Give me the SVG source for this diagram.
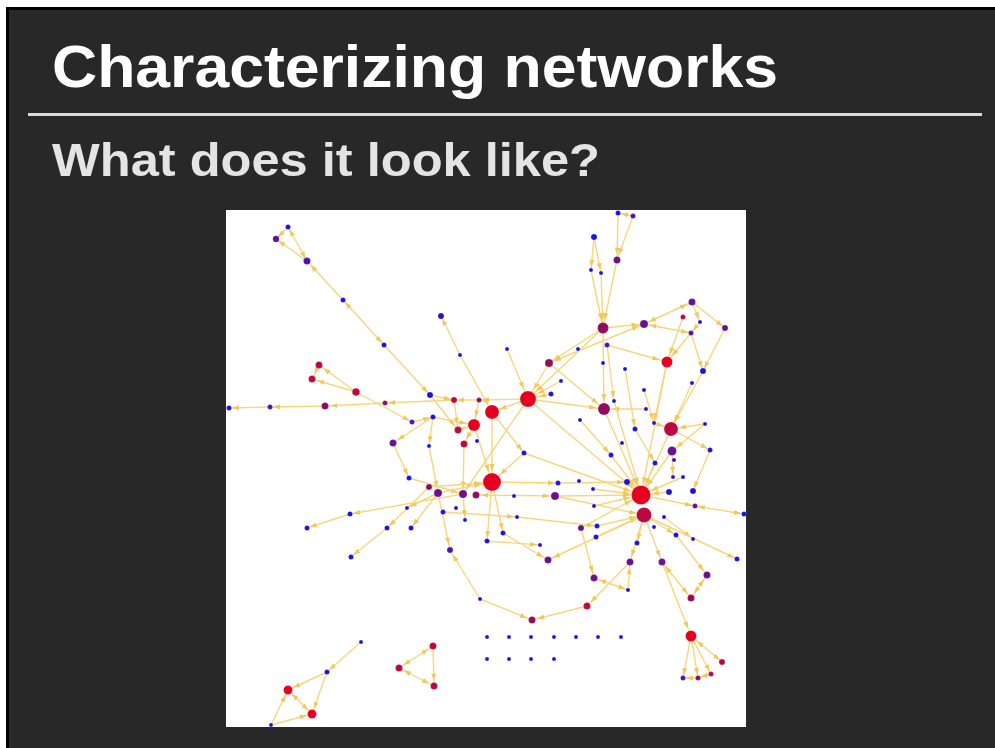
<svg xmlns="http://www.w3.org/2000/svg" width="995" height="748" viewBox="0 0 995 748">
<defs>
<style>
.e{stroke:#f7d67c;stroke-width:1.4;fill:none}
.a{marker-end:url(#ma)} .m{marker-end:url(#mm)} .b{marker-end:url(#mb)} .B{marker-end:url(#mB)}
.sa{marker-start:url(#ma)} .sm{marker-start:url(#mm)} .sb{marker-start:url(#mb)}
.c1{fill:#1d10e2} .c2{fill:#4c12b6} .c3{fill:#6b0f8e} .c4{fill:#900c62} .c5{fill:#bb0840} .c6{fill:#e60020}
.nodes circle{stroke:#ffffff;stroke-opacity:0.25;stroke-width:0.6}
.title{font-family:"Liberation Sans","DejaVu Sans",sans-serif;font-weight:bold}
</style>
<marker id="ma" viewBox="0 0 8 6" markerWidth="8" markerHeight="6" refX="10" refY="3" orient="auto-start-reverse" markerUnits="userSpaceOnUse"><path d="M0,0.5 L7,3 L0,5.5 z" fill="#f2c75e"/></marker>
<marker id="mm" viewBox="0 0 8 6" markerWidth="8" markerHeight="6" refX="12.5" refY="3" orient="auto-start-reverse" markerUnits="userSpaceOnUse"><path d="M0,0.5 L7,3 L0,5.5 z" fill="#f2c75e"/></marker>
<marker id="mb" viewBox="0 0 8 6" markerWidth="8" markerHeight="6" refX="15" refY="3" orient="auto-start-reverse" markerUnits="userSpaceOnUse"><path d="M0,0.5 L7,3 L0,5.5 z" fill="#f2c75e"/></marker>
<marker id="mB" viewBox="0 0 8 6" markerWidth="8" markerHeight="6" refX="18" refY="3" orient="auto-start-reverse" markerUnits="userSpaceOnUse"><path d="M0,0.5 L7,3 L0,5.5 z" fill="#f2c75e"/></marker>
</defs>
<rect x="0" y="0" width="995" height="748" fill="#ffffff"/>
<rect x="6" y="7" width="989" height="741" fill="#000000"/>
<rect x="9" y="10" width="986" height="738" fill="#282828"/>
<text class="title" x="52" y="87" font-size="60" fill="#ffffff" textLength="726" lengthAdjust="spacingAndGlyphs">Characterizing networks</text>
<rect x="28" y="113" width="954" height="3" fill="#d9d9d9"/>
<text class="title" x="52" y="176" font-size="47" fill="#e4e4e4" textLength="548" lengthAdjust="spacingAndGlyphs">What does it look like?</text>
<rect x="226" y="210" width="520" height="517" fill="#ffffff"/>
<g id="connectors">
<line class="e a sa" x1="307" y1="261" x2="288" y2="227"/>
<line class="e a" x1="288" y1="227" x2="276" y2="239"/>
<line class="e a" x1="307" y1="261" x2="276" y2="239"/>
<line class="e m" x1="343" y1="300" x2="307" y2="261"/>
<line class="e a sa" x1="343" y1="300" x2="384" y2="345"/>
<line class="e a" x1="384" y1="345" x2="430" y2="395"/>
<line class="e m" x1="319" y1="365" x2="312" y2="379"/>
<line class="e m" x1="356" y1="392" x2="319" y2="365"/>
<line class="e m" x1="356" y1="392" x2="312" y2="379"/>
<line class="e a" x1="356" y1="392" x2="412" y2="422"/>
<line class="e a" x1="270" y1="407" x2="229" y2="408"/>
<line class="e a" x1="325" y1="406" x2="270" y2="407"/>
<line class="e m" x1="385" y1="403" x2="325" y2="406"/>
<line class="e a" x1="454" y1="400" x2="385" y2="403"/>
<line class="e a" x1="479" y1="400" x2="454" y2="400"/>
<line class="e a" x1="528" y1="399" x2="479" y2="400"/>
<line class="e m" x1="433" y1="417" x2="393" y2="443"/>
<line class="e a" x1="393" y1="443" x2="409" y2="478"/>
<line class="e a" x1="460" y1="355" x2="441" y2="316"/>
<line class="e b" x1="460" y1="355" x2="492" y2="412"/>
<line class="e B" x1="507" y1="349" x2="528" y2="399"/>
<line class="e m" x1="603" y1="328" x2="549" y2="363"/>
<line class="e m sm" x1="644" y1="324" x2="549" y2="363"/>
<line class="e B" x1="561" y1="381" x2="528" y2="399"/>
<line class="e B" x1="549" y1="363" x2="528" y2="399"/>
<line class="e a" x1="633" y1="216" x2="618" y2="213"/>
<line class="e m" x1="618" y1="213" x2="617" y2="260"/>
<line class="e m" x1="633" y1="216" x2="617" y2="260"/>
<line class="e a" x1="594" y1="237" x2="591" y2="270"/>
<line class="e a" x1="594" y1="237" x2="601" y2="273"/>
<line class="e b" x1="591" y1="270" x2="603" y2="328"/>
<line class="e b" x1="601" y1="273" x2="603" y2="328"/>
<line class="e b" x1="617" y1="260" x2="603" y2="328"/>
<line class="e B" x1="603" y1="328" x2="528" y2="399"/>
<line class="e m" x1="603" y1="328" x2="644" y2="324"/>
<line class="e m sm" x1="692" y1="302" x2="644" y2="324"/>
<line class="e m sa" x1="691" y1="333" x2="644" y2="324"/>
<line class="e a" x1="692" y1="302" x2="725" y2="328"/>
<line class="e a" x1="692" y1="302" x2="700" y2="322"/>
<line class="e a" x1="700" y1="322" x2="691" y2="333"/>
<line class="e a" x1="725" y1="328" x2="703" y2="371"/>
<line class="e a" x1="691" y1="333" x2="703" y2="371"/>
<line class="e b" x1="691" y1="333" x2="667" y2="362"/>
<line class="e b" x1="683" y1="317" x2="667" y2="362"/>
<line class="e b" x1="607" y1="345" x2="667" y2="362"/>
<line class="e b" x1="603" y1="328" x2="604" y2="409"/>
<line class="e a" x1="607" y1="345" x2="614" y2="401"/>
<line class="e a" x1="625" y1="369" x2="635" y2="429"/>
<line class="e a" x1="667" y1="362" x2="654" y2="423"/>
<line class="e b" x1="703" y1="371" x2="671" y2="429"/>
<line class="e b" x1="692" y1="383" x2="671" y2="429"/>
<line class="e b" x1="549" y1="363" x2="604" y2="409"/>
<line class="e b" x1="528" y1="399" x2="604" y2="409"/>
<line class="e B" x1="551" y1="394" x2="528" y2="399"/>
<line class="e B" x1="667" y1="362" x2="641" y2="495"/>
<line class="e b" x1="646" y1="409" x2="604" y2="409"/>
<line class="e a" x1="644" y1="390" x2="654" y2="423"/>
<line class="e b" x1="654" y1="423" x2="671" y2="429"/>
<line class="e b" x1="705" y1="424" x2="671" y2="429"/>
<line class="e m" x1="705" y1="424" x2="672" y2="451"/>
<line class="e a" x1="671" y1="429" x2="710" y2="450"/>
<line class="e a" x1="710" y1="450" x2="693" y2="491"/>
<line class="e a" x1="672" y1="451" x2="673" y2="477"/>
<line class="e B" x1="671" y1="429" x2="641" y2="495"/>
<line class="e B" x1="672" y1="451" x2="641" y2="495"/>
<line class="e B" x1="655" y1="463" x2="641" y2="495"/>
<line class="e a" x1="635" y1="429" x2="655" y2="463"/>
<line class="e B" x1="604" y1="409" x2="641" y2="495"/>
<line class="e B" x1="614" y1="401" x2="641" y2="495"/>
<line class="e a" x1="580" y1="420" x2="611" y2="455"/>
<line class="e B" x1="611" y1="455" x2="641" y2="495"/>
<line class="e B" x1="683" y1="477" x2="641" y2="495"/>
<line class="e a" x1="492" y1="482" x2="558" y2="483"/>
<line class="e a" x1="558" y1="483" x2="627" y2="482"/>
<line class="e B" x1="627" y1="482" x2="641" y2="495"/>
<line class="e m sm" x1="476" y1="495" x2="555" y2="496"/>
<line class="e B" x1="555" y1="496" x2="641" y2="495"/>
<line class="e b" x1="555" y1="496" x2="644" y2="515"/>
<line class="e B" x1="593" y1="489" x2="641" y2="495"/>
<line class="e B" x1="594" y1="506" x2="641" y2="495"/>
<line class="e B" x1="581" y1="528" x2="641" y2="495"/>
<line class="e b" x1="597" y1="526" x2="644" y2="515"/>
<line class="e b" x1="596" y1="537" x2="644" y2="515"/>
<line class="e B" x1="669" y1="492" x2="641" y2="495"/>
<line class="e a" x1="641" y1="495" x2="695" y2="506"/>
<line class="e a sa" x1="744" y1="514" x2="695" y2="506"/>
<line class="e a" x1="664" y1="517" x2="693" y2="539"/>
<line class="e a" x1="644" y1="515" x2="676" y2="535"/>
<line class="e a" x1="644" y1="515" x2="637" y2="543"/>
<line class="e B" x1="524" y1="453" x2="641" y2="495"/>
<line class="e a" x1="492" y1="412" x2="524" y2="453"/>
<line class="e B" x1="524" y1="453" x2="492" y2="482"/>
<line class="e B" x1="528" y1="399" x2="641" y2="495"/>
<line class="e a" x1="443" y1="512" x2="517" y2="517"/>
<line class="e a" x1="517" y1="517" x2="597" y2="526"/>
<line class="e b" x1="528" y1="399" x2="492" y2="412"/>
<line class="e m" x1="528" y1="399" x2="463" y2="494"/>
<line class="e a" x1="430" y1="395" x2="454" y2="400"/>
<line class="e m" x1="430" y1="395" x2="458" y2="430"/>
<line class="e m" x1="454" y1="400" x2="458" y2="430"/>
<line class="e b" x1="433" y1="417" x2="474" y2="425"/>
<line class="e a" x1="412" y1="422" x2="433" y2="417"/>
<line class="e b" x1="458" y1="430" x2="474" y2="425"/>
<line class="e b" x1="479" y1="400" x2="474" y2="425"/>
<line class="e m" x1="474" y1="425" x2="464" y2="444"/>
<line class="e B" x1="474" y1="425" x2="492" y2="482"/>
<line class="e m" x1="464" y1="444" x2="463" y2="494"/>
<line class="e B" x1="492" y1="412" x2="492" y2="482"/>
<line class="e a" x1="433" y1="417" x2="429" y2="446"/>
<line class="e m" x1="429" y1="446" x2="438" y2="493"/>
<line class="e m" x1="409" y1="478" x2="463" y2="494"/>
<line class="e B" x1="429" y1="487" x2="492" y2="482"/>
<line class="e B" x1="438" y1="493" x2="492" y2="482"/>
<line class="e a" x1="438" y1="493" x2="411" y2="528"/>
<line class="e a" x1="438" y1="493" x2="407" y2="508"/>
<line class="e a" x1="429" y1="487" x2="387" y2="528"/>
<line class="e a" x1="387" y1="528" x2="351" y2="557"/>
<line class="e a" x1="463" y1="494" x2="350" y2="514"/>
<line class="e a" x1="350" y1="514" x2="307" y2="528"/>
<line class="e a" x1="463" y1="494" x2="465" y2="520"/>
<line class="e a" x1="492" y1="482" x2="503" y2="533"/>
<line class="e a" x1="492" y1="482" x2="487" y2="541"/>
<line class="e m" x1="503" y1="533" x2="548" y2="560"/>
<line class="e a" x1="487" y1="541" x2="540" y2="545"/>
<line class="e m" x1="480" y1="599" x2="450" y2="550"/>
<line class="e m" x1="438" y1="493" x2="450" y2="550"/>
<line class="e m" x1="480" y1="599" x2="532" y2="620"/>
<line class="e m" x1="587" y1="606" x2="532" y2="620"/>
<line class="e m" x1="630" y1="562" x2="587" y2="606"/>
<line class="e m" x1="628" y1="590" x2="630" y2="562"/>
<line class="e a sm" x1="594" y1="578" x2="628" y2="590"/>
<line class="e m" x1="581" y1="528" x2="594" y2="578"/>
<line class="e m" x1="644" y1="515" x2="630" y2="562"/>
<line class="e m" x1="644" y1="515" x2="662" y2="562"/>
<line class="e m" x1="644" y1="515" x2="548" y2="560"/>
<line class="e a" x1="644" y1="515" x2="737" y2="559"/>
<line class="e m" x1="676" y1="535" x2="707" y2="575"/>
<line class="e m sm" x1="691" y1="598" x2="707" y2="575"/>
<line class="e m sm" x1="662" y1="562" x2="691" y2="598"/>
<line class="e b" x1="662" y1="562" x2="691" y2="636"/>
<line class="e a sb" x1="691" y1="636" x2="722" y2="662"/>
<line class="e a" x1="691" y1="636" x2="711" y2="674"/>
<line class="e a" x1="691" y1="636" x2="698" y2="678"/>
<line class="e a" x1="691" y1="636" x2="683" y2="678"/>
<line class="e a" x1="711" y1="674" x2="698" y2="678"/>
<line class="e a" x1="698" y1="678" x2="683" y2="678"/>
<line class="e m sm" x1="433" y1="646" x2="399" y2="668"/>
<line class="e m" x1="433" y1="646" x2="434" y2="686"/>
<line class="e m sm" x1="434" y1="686" x2="399" y2="668"/>
<line class="e a" x1="361" y1="642" x2="327" y2="672"/>
<line class="e m" x1="327" y1="672" x2="288" y2="690"/>
<line class="e m" x1="327" y1="672" x2="312" y2="714"/>
<line class="e m sm" x1="288" y1="690" x2="312" y2="714"/>
<line class="e m" x1="271" y1="725" x2="288" y2="690"/>
<line class="e m" x1="271" y1="725" x2="312" y2="714"/>
</g>
<g class="nodes">
<g id="A1"><circle class="c1" cx="288" cy="227" r="2.5"/></g>
<g id="A2"><circle class="c3" cx="276" cy="239" r="3.2"/></g>
<g id="A3"><circle class="c2" cx="307" cy="261" r="3.5"/></g>
<g id="A4"><circle class="c1" cx="343" cy="300" r="2.5"/></g>
<g id="A5"><circle class="c1" cx="384" cy="345" r="2.5"/></g>
<g id="B1"><circle class="c5" cx="319" cy="365" r="3.5"/></g>
<g id="B2"><circle class="c5" cx="312" cy="379" r="3.5"/></g>
<g id="B3"><circle class="c5" cx="356" cy="392" r="3.8"/></g>
<g id="B4"><circle class="c1" cx="229" cy="408" r="2.5"/></g>
<g id="B5"><circle class="c2" cx="270" cy="407" r="2.5"/></g>
<g id="B6"><circle class="c4" cx="325" cy="406" r="3.5"/></g>
<g id="B7"><circle class="c4" cx="385" cy="403" r="2.5"/></g>
<g id="B8"><circle class="c3" cx="393" cy="443" r="3.5"/></g>
<g id="C1"><circle class="c1" cx="441" cy="316" r="3"/></g>
<g id="C2"><circle class="c1" cx="460" cy="355" r="2"/></g>
<g id="C3"><circle class="c1" cx="507" cy="349" r="2"/></g>
<g id="C4"><circle class="c4" cx="549" cy="363" r="4"/></g>
<g id="C5"><circle class="c1" cx="561" cy="381" r="2"/></g>
<g id="D1"><circle class="c1" cx="618" cy="213" r="2.5"/></g>
<g id="D2"><circle class="c2" cx="633" cy="216" r="2.5"/></g>
<g id="D3"><circle class="c1" cx="594" cy="237" r="3"/></g>
<g id="D4"><circle class="c3" cx="617" cy="260" r="3.5"/></g>
<g id="D5"><circle class="c1" cx="591" cy="270" r="2"/></g>
<g id="D6"><circle class="c1" cx="601" cy="273" r="2"/></g>
<g id="D7"><circle class="c4" cx="603" cy="328" r="5.5"/></g>
<g id="D8"><circle class="c3" cx="644" cy="324" r="4"/></g>
<g id="D9"><circle class="c3" cx="692" cy="302" r="3.5"/></g>
<g id="D10"><circle class="c5" cx="683" cy="317" r="2.5"/></g>
<g id="D11"><circle class="c1" cx="700" cy="322" r="2"/></g>
<g id="D12"><circle class="c3" cx="725" cy="328" r="3"/></g>
<g id="D13"><circle class="c2" cx="691" cy="333" r="2.5"/></g>
<g id="D14"><circle class="c1" cx="578" cy="349" r="2"/></g>
<g id="D15"><circle class="c2" cx="607" cy="345" r="2.5"/></g>
<g id="D16"><circle class="c6" cx="667" cy="362" r="5.5"/></g>
<g id="D17"><circle class="c1" cx="703" cy="371" r="3"/></g>
<g id="D18"><circle class="c1" cx="603" cy="363" r="2"/></g>
<g id="D19"><circle class="c1" cx="625" cy="369" r="2"/></g>
<g id="D20"><circle class="c1" cx="692" cy="383" r="2"/></g>
<g id="E1"><circle class="c1" cx="430" cy="395" r="3"/></g>
<g id="E2"><circle class="c5" cx="454" cy="400" r="3"/></g>
<g id="E3"><circle class="c4" cx="479" cy="400" r="2.5"/></g>
<g id="E4"><circle class="c6" cx="492" cy="412" r="7"/></g>
<g id="E5"><circle class="c6" cx="528" cy="399" r="8"/></g>
<g id="E6"><circle class="c1" cx="551" cy="394" r="2.5"/></g>
<g id="E7"><circle class="c1" cx="433" cy="417" r="2.5"/></g>
<g id="E8"><circle class="c2" cx="412" cy="422" r="2.5"/></g>
<g id="E9"><circle class="c6" cx="474" cy="425" r="6"/></g>
<g id="E10"><circle class="c5" cx="458" cy="430" r="3.5"/></g>
<g id="E11"><circle class="c5" cx="464" cy="444" r="3.5"/></g>
<g id="E12"><circle class="c1" cx="477" cy="441" r="2"/></g>
<g id="E13"><circle class="c1" cx="429" cy="446" r="2"/></g>
<g id="E14"><circle class="c1" cx="524" cy="453" r="2.5"/></g>
<g id="F1"><circle class="c4" cx="604" cy="409" r="6"/></g>
<g id="F2"><circle class="c1" cx="614" cy="401" r="2"/></g>
<g id="F3"><circle class="c1" cx="644" cy="390" r="2"/></g>
<g id="F4"><circle class="c1" cx="580" cy="420" r="2"/></g>
<g id="F5"><circle class="c1" cx="646" cy="409" r="2"/></g>
<g id="F6"><circle class="c1" cx="654" cy="423" r="2"/></g>
<g id="F7"><circle class="c5" cx="671" cy="429" r="7"/></g>
<g id="F8"><circle class="c1" cx="705" cy="424" r="2"/></g>
<g id="F9"><circle class="c1" cx="635" cy="429" r="2.5"/></g>
<g id="F10"><circle class="c1" cx="622" cy="443" r="2"/></g>
<g id="F11"><circle class="c3" cx="672" cy="451" r="4.5"/></g>
<g id="F12"><circle class="c1" cx="710" cy="450" r="2.5"/></g>
<g id="F13"><circle class="c1" cx="611" cy="455" r="2.5"/></g>
<g id="F14"><circle class="c1" cx="674" cy="460" r="2"/></g>
<g id="F15"><circle class="c1" cx="655" cy="463" r="2.5"/></g>
<g id="F16"><circle class="c1" cx="673" cy="477" r="2"/></g>
<g id="F17"><circle class="c1" cx="683" cy="477" r="2"/></g>
<g id="G1"><circle class="c6" cx="492" cy="482" r="9"/></g>
<g id="G2"><circle class="c1" cx="409" cy="478" r="2.5"/></g>
<g id="G3"><circle class="c4" cx="429" cy="487" r="3"/></g>
<g id="G4"><circle class="c3" cx="438" cy="493" r="4"/></g>
<g id="G5"><circle class="c3" cx="463" cy="494" r="4"/></g>
<g id="G6"><circle class="c4" cx="476" cy="495" r="3.5"/></g>
<g id="G7"><circle class="c1" cx="514" cy="496" r="2"/></g>
<g id="G8"><circle class="c1" cx="558" cy="483" r="2.5"/></g>
<g id="G9"><circle class="c3" cx="555" cy="496" r="4"/></g>
<g id="G10"><circle class="c1" cx="407" cy="508" r="2"/></g>
<g id="G11"><circle class="c1" cx="456" cy="508" r="2"/></g>
<g id="G12"><circle class="c1" cx="443" cy="512" r="2.5"/></g>
<g id="G13"><circle class="c1" cx="465" cy="520" r="2"/></g>
<g id="G14"><circle class="c1" cx="517" cy="517" r="2"/></g>
<g id="G15"><circle class="c1" cx="411" cy="528" r="2.5"/></g>
<g id="G16"><circle class="c1" cx="503" cy="533" r="2.5"/></g>
<g id="G17"><circle class="c1" cx="487" cy="541" r="2.5"/></g>
<g id="G18"><circle class="c2" cx="450" cy="550" r="3"/></g>
<g id="G19"><circle class="c1" cx="540" cy="545" r="2"/></g>
<g id="H1"><circle class="c1" cx="579" cy="481" r="2"/></g>
<g id="H2"><circle class="c1" cx="627" cy="482" r="3"/></g>
<g id="H3"><circle class="c1" cx="669" cy="492" r="3"/></g>
<g id="H4"><circle class="c1" cx="693" cy="491" r="3"/></g>
<g id="H5"><circle class="c6" cx="641" cy="495" r="9.5"/></g>
<g id="H6"><circle class="c1" cx="593" cy="489" r="2"/></g>
<g id="H7"><circle class="c1" cx="594" cy="506" r="2"/></g>
<g id="H8"><circle class="c3" cx="695" cy="506" r="2.5"/></g>
<g id="H9"><circle class="c5" cx="644" cy="515" r="7.5"/></g>
<g id="H10"><circle class="c1" cx="744" cy="514" r="2.5"/></g>
<g id="H11"><circle class="c1" cx="664" cy="517" r="2"/></g>
<g id="H12"><circle class="c3" cx="581" cy="528" r="3"/></g>
<g id="H13"><circle class="c1" cx="597" cy="526" r="2.5"/></g>
<g id="H14"><circle class="c1" cx="654" cy="527" r="2"/></g>
<g id="H15"><circle class="c1" cx="596" cy="537" r="2.5"/></g>
<g id="H16"><circle class="c1" cx="676" cy="535" r="2.5"/></g>
<g id="H17"><circle class="c1" cx="693" cy="539" r="2"/></g>
<g id="H18"><circle class="c1" cx="637" cy="543" r="2.5"/></g>
<g id="I1"><circle class="c1" cx="350" cy="514" r="2.5"/></g>
<g id="I2"><circle class="c1" cx="307" cy="528" r="2.5"/></g>
<g id="I3"><circle class="c1" cx="387" cy="528" r="2.5"/></g>
<g id="I4"><circle class="c1" cx="351" cy="557" r="2.5"/></g>
<g id="J1"><circle class="c3" cx="548" cy="560" r="3.5"/></g>
<g id="J2"><circle class="c1" cx="480" cy="599" r="2"/></g>
<g id="J3"><circle class="c4" cx="532" cy="620" r="3.5"/></g>
<g id="J4"><circle class="c3" cx="630" cy="562" r="3.5"/></g>
<g id="J5"><circle class="c3" cx="662" cy="562" r="3.5"/></g>
<g id="J6"><circle class="c1" cx="737" cy="559" r="2.5"/></g>
<g id="J7"><circle class="c3" cx="594" cy="578" r="3.5"/></g>
<g id="J8"><circle class="c1" cx="628" cy="590" r="2"/></g>
<g id="J9"><circle class="c3" cx="707" cy="575" r="3.5"/></g>
<g id="J10"><circle class="c4" cx="691" cy="598" r="3.5"/></g>
<g id="J11"><circle class="c5" cx="587" cy="606" r="3.5"/></g>
<g id="J12"><circle class="c6" cx="691" cy="636" r="5.5"/></g>
<g id="J13"><circle class="c5" cx="722" cy="662" r="3"/></g>
<g id="J14"><circle class="c5" cx="711" cy="674" r="2.5"/></g>
<g id="J15"><circle class="c2" cx="683" cy="678" r="2.5"/></g>
<g id="J16"><circle class="c4" cx="698" cy="678" r="2.5"/></g>
<g id="K1"><circle class="c5" cx="433" cy="646" r="3.5"/></g>
<g id="K2"><circle class="c5" cx="399" cy="668" r="3.5"/></g>
<g id="K3"><circle class="c5" cx="434" cy="686" r="3.5"/></g>
<g id="L1"><circle class="c1" cx="361" cy="642" r="2"/></g>
<g id="L2"><circle class="c1" cx="327" cy="672" r="2.5"/></g>
<g id="L3"><circle class="c6" cx="288" cy="690" r="4.5"/></g>
<g id="L4"><circle class="c6" cx="312" cy="714" r="4.5"/></g>
<g id="L5"><circle class="c1" cx="271" cy="725" r="2"/></g>
<g id="P1"><circle class="c1" cx="487" cy="637" r="2"/></g>
<g id="P2"><circle class="c1" cx="509" cy="637" r="2"/></g>
<g id="P3"><circle class="c1" cx="531" cy="637" r="2"/></g>
<g id="P4"><circle class="c1" cx="554" cy="637" r="2"/></g>
<g id="P5"><circle class="c1" cx="576" cy="637" r="2"/></g>
<g id="P6"><circle class="c1" cx="598" cy="637" r="2"/></g>
<g id="P7"><circle class="c1" cx="621" cy="637" r="2"/></g>
<g id="Q1"><circle class="c1" cx="487" cy="659" r="2"/></g>
<g id="Q2"><circle class="c1" cx="509" cy="659" r="2"/></g>
<g id="Q3"><circle class="c1" cx="531" cy="659" r="2"/></g>
<g id="Q4"><circle class="c1" cx="554" cy="659" r="2"/></g>
</g>
</svg>
